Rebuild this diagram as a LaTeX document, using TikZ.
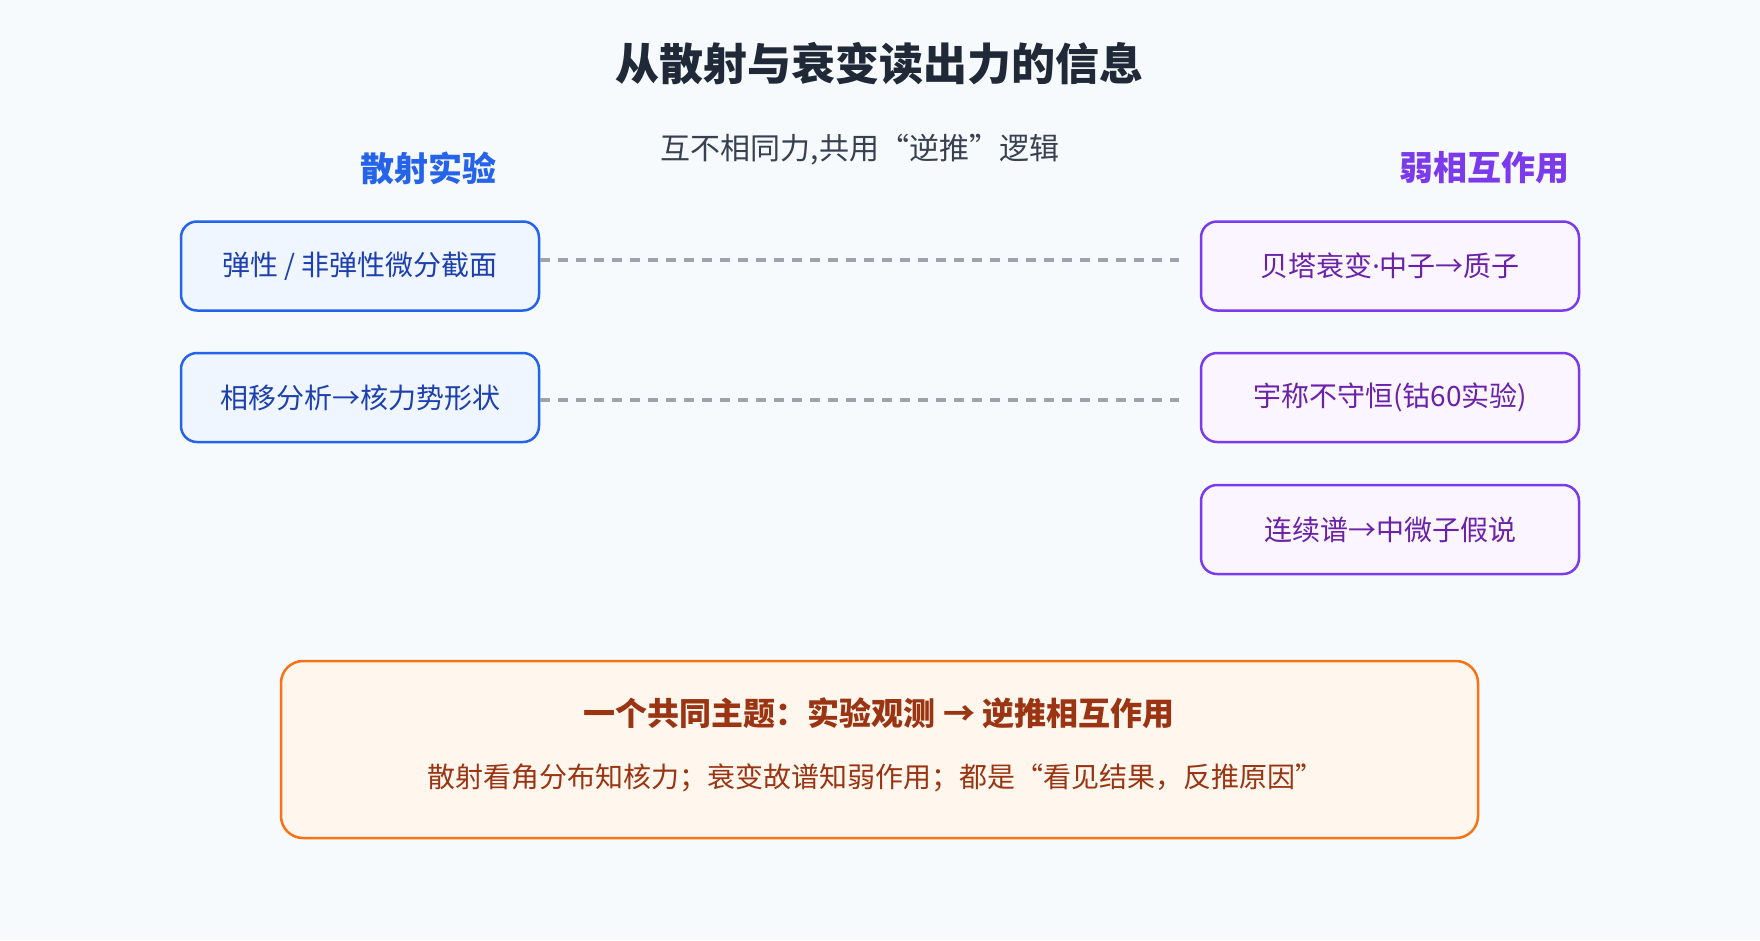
\documentclass[tikz,border=0pt]{standalone}
\usepackage{fontspec}
\setmainfont{Noto Sans CJK SC}
\newfontfamily\latinfont{Noto Sans}
\definecolor{pagebg}{HTML}{F7FAFC}
\definecolor{titleink}{HTML}{1F2937}
\definecolor{subink}{HTML}{374151}
\definecolor{scatblue}{HTML}{2563EB}
\definecolor{scatfill}{HTML}{EFF6FF}
\definecolor{scattext}{HTML}{1E40AF}
\definecolor{weakpurple}{HTML}{7C3AED}
\definecolor{weakfill}{HTML}{FAF5FF}
\definecolor{weaktext}{HTML}{6B21A8}
\definecolor{linkgray}{HTML}{9CA3AF}
\definecolor{themeline}{HTML}{F97316}
\definecolor{themefill}{HTML}{FFF7ED}
\definecolor{themetext}{HTML}{9A3412}

\begin{document}
\begin{tikzpicture}[x=1pt, y=-1pt,
                    scatbox/.style={draw=scatblue, fill=scatfill, line width=2.5pt, rounded corners=16pt,
                                    minimum width=358pt, minimum height=89pt, text=scattext, font=\fontsize{28}{34}\selectfont},
                    weakbox/.style={draw=weakpurple, fill=weakfill, line width=2.5pt, rounded corners=16pt,
                                    minimum width=378pt, minimum height=89pt, text=weaktext, font=\fontsize{28}{34}\selectfont},
                    link/.style={draw=linkgray, line width=3.5pt, dash pattern=on 10pt off 8pt}]

                    \fill[pagebg] (0,0) rectangle (1760,940);
                    \useasboundingbox (0,0) rectangle (1760,940);

                    \node[text=titleink, font=\fontsize{44}{52}\selectfont\bfseries] (title) at (879,64) {从散射与衰变读出力的信息};
                    \node[text=subink, font=\fontsize{30}{36}\selectfont] (sub) at (860,150) {互不相同力,共用“逆推”逻辑};

                    \node[text=scatblue, font=\fontsize{34}{40}\selectfont\bfseries] (scathead) at (428,168) {散射实验};
                    \node[text=weakpurple, font=\fontsize{34}{40}\selectfont\bfseries] (weakhead) at (1484,168) {弱相互作用};

                    \node[scatbox] (s1) at (360,266) {弹性 / 非弹性微分截面};
                    \node[scatbox] (s2) at (360,397.5) {相移分析→核力势形状};

                    \node[weakbox] (w1) at (1390,266) {贝塔衰变{\latinfont ·}中子→质子};
                    \node[weakbox] (w2) at (1390,397.5) {宇称不守恒(钴60实验)};
                    \node[weakbox] (w3) at (1390,529.5) {连续谱→中微子假说};

                    \draw[link, shorten >=21pt] ([yshift=6pt]s1.east) -- ([yshift=6pt]s1.east -| w1.west);
                    \draw[link, shorten >=21pt] ([yshift=-2.5pt]s2.east) -- ([yshift=-2.5pt]s2.east -| w2.west);

                    % common theme
                    \node[draw=themeline, fill=themefill, line width=2.5pt, rounded corners=22pt,
                          minimum width=1197pt, minimum height=177pt] (theme) at (879.5,749.5) {};
                    \node[text=themetext, font=\fontsize{32}{38}\selectfont\bfseries] (themehead) at (879,713) {一个共同主题：实验观测 → 逆推相互作用};
                    \node[text=themetext, font=\fontsize{28}{34}\selectfont] (themebody) at (875,778) {散射看角分布知核力；衰变故谱知弱作用；都是“看见结果，反推原因”};
                \end{tikzpicture}
\end{document}
